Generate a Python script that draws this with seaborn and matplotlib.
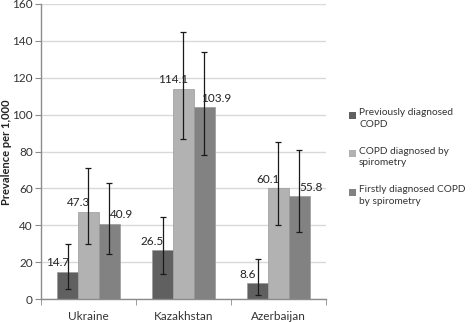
import matplotlib
matplotlib.use("Agg")
import matplotlib.pyplot as plt
import seaborn as sns
import pandas as pd
import numpy as np
from matplotlib.patches import Rectangle

countries = ["Ukraine", "Kazakhstan", "Azerbaijan"]
series = ["Previously diagnosed\nCOPD", "COPD diagnosed by\nspirometry", "Firstly diagnosed COPD\nby spirometry"]
prev_vals = [14.7, 26.5, 8.6]
spiro_vals = [47.3, 114.1, 60.1]
first_vals = [40.9, 103.9, 55.8]
prev_low = [5.4, 13.7, 2.0]
prev_high = [29.7, 44.7, 21.7]
spiro_low = [29.7, 86.9, 40.1]
spiro_high = [70.8, 145.0, 85.4]
first_low = [24.4, 78.2, 36.6]
first_high = [63.0, 133.8, 80.7]
colors = ["#606060", "#b2b2b2", "#828282"]

vals = [prev_vals, spiro_vals, first_vals]
lows = [prev_low, spiro_low, first_low]
highs = [prev_high, spiro_high, first_high]

rows = []
for s, v in zip(series, vals):
    for c, x in zip(countries, v):
        rows.append({"country": c, "series": s, "value": x})
df = pd.DataFrame(rows)

sns.set_style("white")
plt.rcParams['font.family'] = ['Lato', 'DejaVu Sans']

W, H = 472, 322
fig = plt.figure(figsize=(4.72, 3.22), dpi=100)
ax = fig.add_axes([41/W, 23/H, 285/W, 295/H])

sns.barplot(data=df, x="country", y="value", hue="series", order=countries,
            hue_order=series, palette=colors, width=0.66, errorbar=None,
            saturation=1, ax=ax, legend=False, linewidth=0.5, edgecolor="#9a9a9a")

bar_containers = list(ax.containers)
label_dx = [-10, -10, 12]
for i, cont in enumerate(bar_containers):
    for j, bar in enumerate(cont.patches):
        xc = bar.get_x() + bar.get_width() / 2
        v = vals[i][j]
        ax.errorbar(xc, v, yerr=[[v - lows[i][j]], [highs[i][j] - v]], fmt="none",
                    ecolor="#1a1a1a", elinewidth=0.9, capsize=2, capthick=0.9, zorder=5)
        ax.annotate(f"{v}", (xc, v), xytext=(label_dx[i], 9), textcoords="offset pixels",
                    ha="center", va="center", fontsize=8.5, color="#222222", zorder=6)

ax.set_xlim(-0.5, 2.5)
ax.set_ylim(0, 160)
ax.set_yticks(np.arange(0, 161, 20))
ax.yaxis.grid(True, color="#d9d9d9", linewidth=1)
ax.set_axisbelow(True)
for sp in ["top", "right"]:
    ax.spines[sp].set_visible(False)
for sp in ["left", "bottom"]:
    ax.spines[sp].set_color("#8c8c8c")
    ax.spines[sp].set_linewidth(1)
ax.tick_params(axis="y", which="major", length=4, color="#8c8c8c", labelsize=8.5,
               labelcolor="#333333", pad=2, left=True)
ax.set_xticks([-0.5, 0.5, 1.5, 2.5], minor=True)
ax.tick_params(axis="x", which="minor", length=4, color="#8c8c8c", bottom=True)
ax.tick_params(axis="x", which="major", length=0, labelsize=8.5, labelcolor="#333333", pad=9)
ax.set_xlabel("")
ax.set_ylabel("")
fig.text(7/W, 1 - 152/H, "Prevalence per 1,000", rotation=90, ha="center", va="center",
         fontsize=8, fontweight="bold", color="#222222")

# legend
leg_y = [115, 153, 192]
for c, lab, yc in zip(colors, series, leg_y):
    fig.patches.append(Rectangle((349/W, 1 - (yc + 3.5)/H), 7/W, 7/H, facecolor=c,
                                 edgecolor="none", transform=fig.transFigure, figure=fig))
    fig.text(359/W, 1 - (yc - 6.5)/H, lab, ha="left", va="top", fontsize=7.3,
             color="#333333", linespacing=1.35)

fig.savefig("out.png", dpi=100)
